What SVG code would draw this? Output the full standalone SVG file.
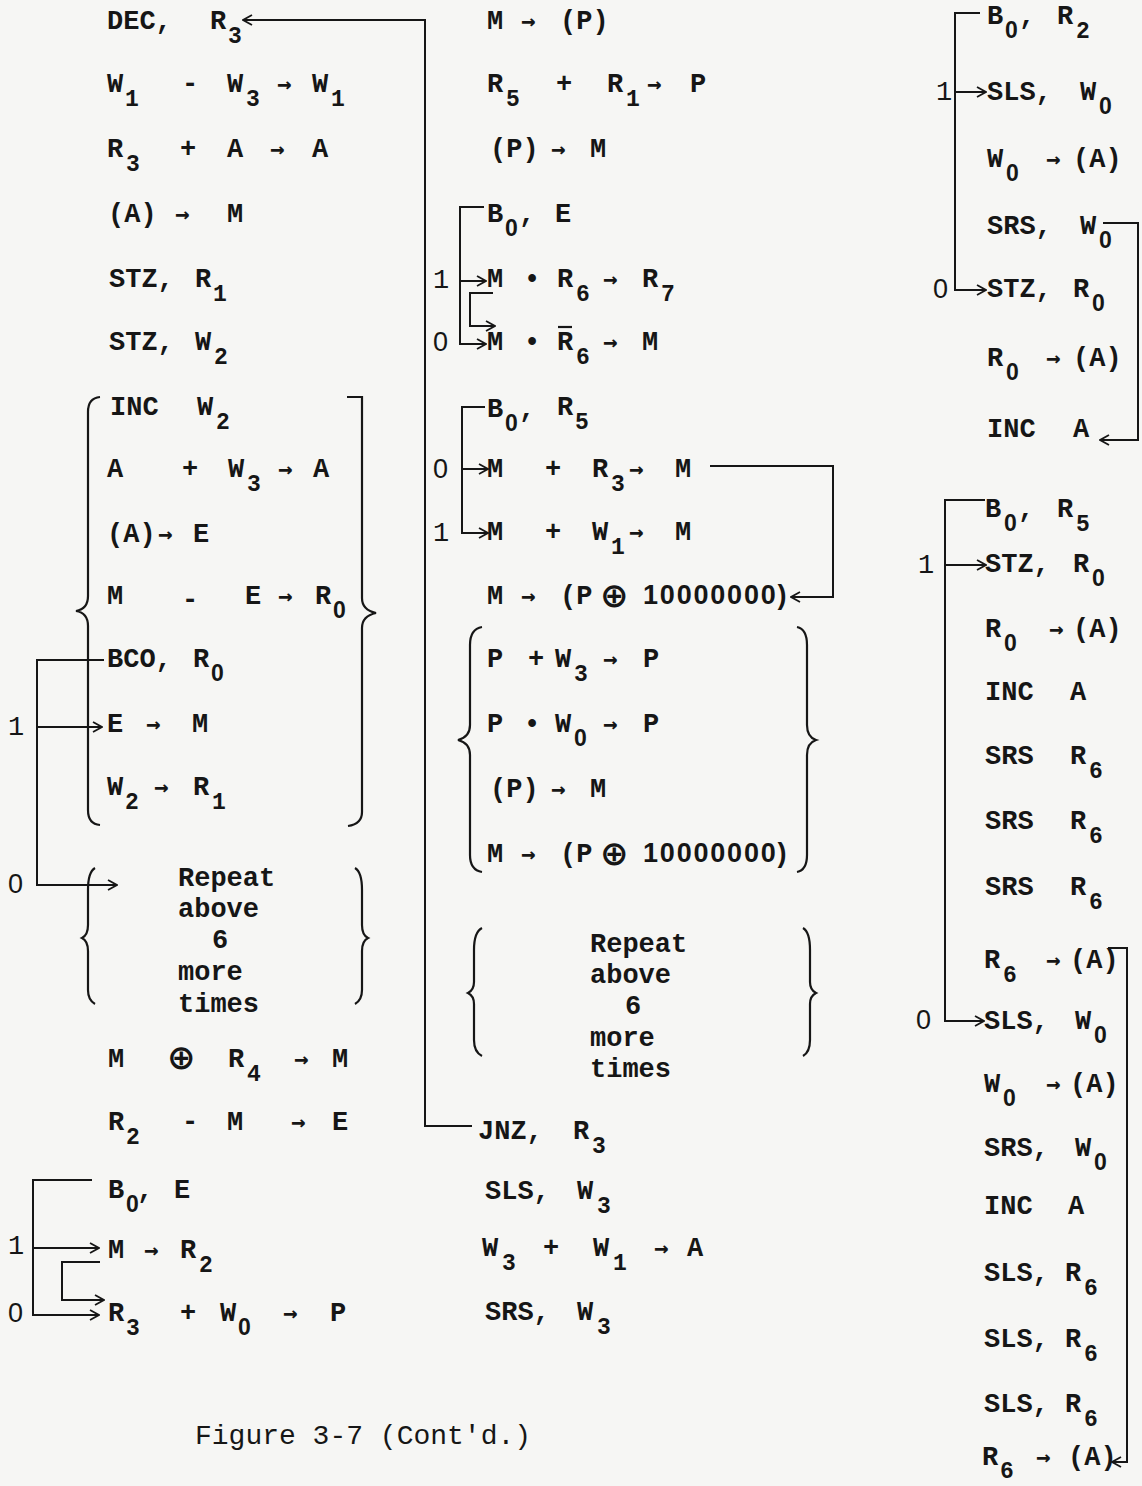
<svg xmlns="http://www.w3.org/2000/svg" width="1142" height="1486" viewBox="0 0 1142 1486">
<style>
.t{font-family:"Liberation Mono","Courier New",monospace;font-weight:bold;font-size:27px;fill:#161616}
.s{font-size:23px}
.z{font-family:"Liberation Sans",Arial,sans-serif}
.n{font-weight:normal}
.op{font-family:"DejaVu Sans",sans-serif;font-weight:bold;font-size:34px}
.ar{font-family:"DejaVu Sans Mono",monospace;font-weight:bold;font-size:24px}
.c{fill:none;stroke:#161616;stroke-width:2}
.br{fill:none;stroke:#161616;stroke-width:2.2}
</style>
<defs>
<marker id="ah" viewBox="0 0 12 12" refX="11" refY="6" markerWidth="12" markerHeight="12" markerUnits="userSpaceOnUse" orient="auto">
<path d="M2,1 L11,6 L2,11" fill="none" stroke="#161616" stroke-width="1.8"/>
</marker>
</defs>
<rect width="1142" height="1486" fill="#f6f6f4"/>

<g id="connectors" class="c">
<path d="M472,1126 L425,1126 L425,20 L243,20" marker-end="url(#ah)"/>
<path d="M104,660 L37,660 L37,885 L117,885" marker-end="url(#ah)"/>
<path d="M37,727 L102,727" marker-end="url(#ah)"/>
<path d="M484,207 L460,207 L460,344 L486,344" marker-end="url(#ah)"/>
<path d="M460,281 L486,281" marker-end="url(#ah)"/>
<path d="M493,293 L470,293 L470,326 L495,326" marker-end="url(#ah)"/>
<path d="M485,407 L462,407 L462,533 L488,533" marker-end="url(#ah)"/>
<path d="M462,469 L488,469" marker-end="url(#ah)"/>
<path d="M710,466 L833,466 L833,597 L791,597" marker-end="url(#ah)"/>
<path d="M92,1180 L33,1180 L33,1315 L99,1315" marker-end="url(#ah)"/>
<path d="M33,1248 L99,1248" marker-end="url(#ah)"/>
<path d="M100,1262 L62,1262 L62,1300 L104,1300" marker-end="url(#ah)"/>
<path d="M980,13 L955,13 L955,290 L986,290" marker-end="url(#ah)"/>
<path d="M955,92 L986,92" marker-end="url(#ah)"/>
<path d="M1103,223 L1138,223 L1138,440 L1100,440" marker-end="url(#ah)"/>
<path d="M985,500 L945,500 L945,1021 L984,1021" marker-end="url(#ah)"/>
<path d="M945,565 L986,565" marker-end="url(#ah)"/>
<path d="M1108,948 L1127,948 L1127,1462 L1112,1462" marker-end="url(#ah)"/>
</g>

<g id="braces" class="br">
<path d="M100,397 Q88,398 88,412 L88,596 Q88,609 76,611 Q88,613 88,626 L88,810 Q88,824 100,825"/>
<path d="M347,397 L362,397 L362,598 Q362,610 376,613 Q362,616 362,628 L362,812 Q362,824 348,826"/>
<path d="M95,868 Q88,872 88,890 L88,925 Q88,935 82,938 Q88,941 88,951 L88,990 Q88,1000 95,1004"/>
<path d="M355,868 Q362,872 362,890 L362,925 Q362,935 368,938 Q362,941 362,951 L362,990 Q362,1000 355,1004"/>
<path d="M482,627 Q470,629 470,645 L470,725 Q470,737 458,740 Q470,743 470,755 L470,855 Q470,870 482,872"/>
<path d="M797,627 Q807,629 807,645 L807,725 Q807,737 816,740 Q807,743 807,755 L807,855 Q807,870 797,872"/>
<path d="M482,928 Q474,932 474,950 L474,982 Q474,990 468,993 Q474,996 474,1004 L474,1040 Q474,1052 482,1056"/>
<path d="M803,928 Q810,932 810,950 L810,982 Q810,990 816,993 Q810,996 810,1004 L810,1040 Q810,1052 803,1056"/>
</g>

<g id="labels" class="t n">
<text x="8" y="735">1</text><text class="z" x="8" y="893">0</text>
<text x="8" y="1254">1</text><text class="z" x="8" y="1322">0</text>
<text x="433" y="288">1</text><text class="z" x="433" y="351">0</text>
<text class="z" x="433" y="478">0</text><text x="433" y="541">1</text>
<text x="936" y="100">1</text><text class="z" x="933" y="298">0</text>
<text x="918" y="573">1</text><text class="z" x="916" y="1029">0</text>
</g>

<g id="l1" class="t"><text><tspan x="107" y="29">DEC,</tspan><tspan x="210" y="29">R</tspan><tspan class="s" x="228" y="43">3</tspan></text></g>
<g id="l2" class="t"><text><tspan x="107" y="92">W</tspan><tspan class="s" x="125" y="106">1</tspan><tspan x="182" y="92">-</tspan><tspan x="227" y="92">W</tspan><tspan class="s" x="246" y="106">3</tspan><tspan class="ar" x="277" y="92">→</tspan><tspan x="312" y="92">W</tspan><tspan class="s" x="331" y="106">1</tspan></text></g>
<g id="l3" class="t"><text><tspan x="107" y="157">R</tspan><tspan class="s" x="126" y="171">3</tspan><tspan x="180" y="157">+</tspan><tspan x="227" y="157">A</tspan><tspan class="ar" x="270" y="157">→</tspan><tspan x="312" y="157">A</tspan></text></g>
<g id="l4" class="t"><text><tspan x="108" y="222">(A)</tspan><tspan class="ar" x="175" y="222">→</tspan><tspan x="227" y="222">M</tspan></text></g>
<g id="l5" class="t"><text><tspan x="109" y="287">STZ,</tspan><tspan x="195" y="287">R</tspan><tspan class="s" x="213" y="301">1</tspan></text></g>
<g id="l6" class="t"><text><tspan x="109" y="350">STZ,</tspan><tspan x="195" y="350">W</tspan><tspan class="s" x="214" y="364">2</tspan></text></g>
<g id="l7" class="t"><text><tspan x="110" y="415">INC</tspan><tspan x="197" y="415">W</tspan><tspan class="s" x="216" y="429">2</tspan></text></g>
<g id="l8" class="t"><text><tspan x="107" y="477">A</tspan><tspan x="182" y="477">+</tspan><tspan x="228" y="477">W</tspan><tspan class="s" x="247" y="491">3</tspan><tspan class="ar" x="278" y="477">→</tspan><tspan x="313" y="477">A</tspan></text></g>
<g id="l9" class="t"><text><tspan x="107" y="542">(A)</tspan><tspan class="ar" x="158" y="542">→</tspan><tspan x="193" y="542">E</tspan></text></g>
<g id="l10" class="t"><text><tspan x="107" y="604">M</tspan><tspan x="182" y="608">-</tspan><tspan x="245" y="604">E</tspan><tspan class="ar" x="278" y="604">→</tspan><tspan x="315" y="604">R</tspan><tspan class="s z" x="333" y="618">0</tspan></text></g>
<g id="l11" class="t"><text><tspan x="107" y="667">BCO,</tspan><tspan x="193" y="667">R</tspan><tspan class="s z" x="211" y="681">0</tspan></text></g>
<g id="l12" class="t"><text><tspan x="107" y="732">E</tspan><tspan class="ar" x="146" y="732">→</tspan><tspan x="192" y="732">M</tspan></text></g>
<g id="l13" class="t"><text><tspan x="107" y="795">W</tspan><tspan class="s" x="125" y="809">2</tspan><tspan class="ar" x="154" y="795">→</tspan><tspan x="193" y="795">R</tspan><tspan class="s" x="212" y="809">1</tspan></text></g>
<g id="repeat1" class="t"><text><tspan x="178" y="886">Repeat</tspan><tspan x="178" y="917">above</tspan><tspan x="212" y="948">6</tspan><tspan x="178" y="980">more</tspan><tspan x="178" y="1012">times</tspan></text></g>
<g id="l14" class="t"><text><tspan x="108" y="1067">M</tspan><tspan class="op" x="167" y="1069">⊕</tspan><tspan x="228" y="1067">R</tspan><tspan class="s" x="247" y="1081">4</tspan><tspan class="ar" x="294" y="1067">→</tspan><tspan x="332" y="1067">M</tspan></text></g>
<g id="l15" class="t"><text><tspan x="108" y="1130">R</tspan><tspan class="s" x="126" y="1144">2</tspan><tspan x="182" y="1130">-</tspan><tspan x="227" y="1130">M</tspan><tspan class="ar" x="291" y="1130">→</tspan><tspan x="332" y="1130">E</tspan></text></g>
<g id="l16" class="t"><text><tspan x="108" y="1198">B</tspan><tspan class="s z" x="126" y="1212">0</tspan><tspan x="137" y="1198">,</tspan><tspan x="174" y="1198">E</tspan></text></g>
<g id="l17" class="t"><text><tspan x="108" y="1258">M</tspan><tspan class="ar" x="144" y="1258">→</tspan><tspan x="180" y="1258">R</tspan><tspan class="s" x="199" y="1272">2</tspan></text></g>
<g id="l18" class="t"><text><tspan x="108" y="1321">R</tspan><tspan class="s" x="126" y="1335">3</tspan><tspan x="180" y="1321">+</tspan><tspan x="220" y="1321">W</tspan><tspan class="s z" x="238" y="1335">0</tspan><tspan class="ar" x="283" y="1321">→</tspan><tspan x="330" y="1321">P</tspan></text></g>
<g id="caption"><text class="t n" x="195" y="1444" style="font-size:28px">Figure 3-7 (Cont'd.)</text></g>

<g id="m1" class="t"><text><tspan x="487" y="29">M</tspan><tspan class="ar" x="521" y="29">→</tspan><tspan x="560" y="29">(P)</tspan></text></g>
<g id="m2" class="t"><text><tspan x="487" y="92">R</tspan><tspan class="s" x="506" y="106">5</tspan><tspan x="556" y="92">+</tspan><tspan x="607" y="92">R</tspan><tspan class="s" x="626" y="106">1</tspan><tspan class="ar" x="647" y="92">→</tspan><tspan x="690" y="92">P</tspan></text></g>
<g id="m3" class="t"><text><tspan x="490" y="157">(P)</tspan><tspan class="ar" x="551" y="157">→</tspan><tspan x="590" y="157">M</tspan></text></g>
<g id="m4" class="t"><text><tspan x="487" y="222">B</tspan><tspan class="s z" x="505" y="236">0</tspan><tspan x="519" y="222">,</tspan><tspan x="555" y="222">E</tspan></text></g>
<g id="m5" class="t"><text><tspan x="487" y="287">M</tspan><tspan x="524" y="287">•</tspan><tspan x="557" y="287">R</tspan><tspan class="s" x="576" y="301">6</tspan><tspan class="ar" x="603" y="287">→</tspan><tspan x="642" y="287">R</tspan><tspan class="s" x="661" y="301">7</tspan></text></g>
<g id="m6" class="t"><text><tspan x="487" y="350">M</tspan><tspan x="524" y="350">•</tspan><tspan x="557" y="350">R</tspan><tspan class="s" x="576" y="364">6</tspan><tspan class="ar" x="603" y="350">→</tspan><tspan x="642" y="350">M</tspan></text><line x1="558" y1="327" x2="572" y2="327" stroke="#161616" stroke-width="2.2"/></g>
<g id="m7" class="t"><text><tspan x="487" y="417">B</tspan><tspan class="s z" x="505" y="431">0</tspan><tspan x="519" y="417">,</tspan><tspan x="557" y="415">R</tspan><tspan class="s" x="575" y="429">5</tspan></text></g>
<g id="m8" class="t"><text><tspan x="487" y="477">M</tspan><tspan x="545" y="477">+</tspan><tspan x="592" y="477">R</tspan><tspan class="s" x="611" y="491">3</tspan><tspan class="ar" x="629" y="477">→</tspan><tspan x="675" y="477">M</tspan></text></g>
<g id="m9" class="t"><text><tspan x="487" y="540">M</tspan><tspan x="545" y="540">+</tspan><tspan x="592" y="540">W</tspan><tspan class="s" x="611" y="554">1</tspan><tspan class="ar" x="629" y="540">→</tspan><tspan x="675" y="540">M</tspan></text></g>
<g id="m10" class="t"><text><tspan x="487" y="604">M</tspan><tspan class="ar" x="521" y="604">→</tspan><tspan x="560" y="604">(P</tspan><tspan class="op" x="600" y="607">⊕</tspan><tspan class="z" x="643" y="604" style="letter-spacing:1.8px">10000000)</tspan></text></g>
<g id="m11" class="t"><text><tspan x="487" y="667">P</tspan><tspan x="528" y="667">+</tspan><tspan x="555" y="667">W</tspan><tspan class="s" x="574" y="681">3</tspan><tspan class="ar" x="603" y="667">→</tspan><tspan x="643" y="667">P</tspan></text></g>
<g id="m12" class="t"><text><tspan x="487" y="732">P</tspan><tspan x="524" y="732">•</tspan><tspan x="555" y="732">W</tspan><tspan class="s z" x="574" y="746">0</tspan><tspan class="ar" x="603" y="732">→</tspan><tspan x="643" y="732">P</tspan></text></g>
<g id="m13" class="t"><text><tspan x="490" y="797">(P)</tspan><tspan class="ar" x="551" y="797">→</tspan><tspan x="590" y="797">M</tspan></text></g>
<g id="m14" class="t"><text><tspan x="487" y="862">M</tspan><tspan class="ar" x="521" y="862">→</tspan><tspan x="560" y="862">(P</tspan><tspan class="op" x="600" y="865">⊕</tspan><tspan class="z" x="643" y="862" style="letter-spacing:1.8px">10000000)</tspan></text></g>
<g id="repeat2" class="t"><text><tspan x="590" y="952">Repeat</tspan><tspan x="590" y="983">above</tspan><tspan x="625" y="1014">6</tspan><tspan x="590" y="1046">more</tspan><tspan x="590" y="1077">times</tspan></text></g>
<g id="m15" class="t"><text><tspan x="478" y="1139">JNZ,</tspan><tspan x="573" y="1139">R</tspan><tspan class="s" x="592" y="1153">3</tspan></text></g>
<g id="m16" class="t"><text><tspan x="485" y="1199">SLS,</tspan><tspan x="577" y="1199">W</tspan><tspan class="s" x="597" y="1213">3</tspan></text></g>
<g id="m17" class="t"><text><tspan x="482" y="1256">W</tspan><tspan class="s" x="502" y="1270">3</tspan><tspan x="543" y="1256">+</tspan><tspan x="593" y="1256">W</tspan><tspan class="s" x="613" y="1270">1</tspan><tspan class="ar" x="654" y="1256">→</tspan><tspan x="687" y="1256">A</tspan></text></g>
<g id="m18" class="t"><text><tspan x="485" y="1320">SRS,</tspan><tspan x="577" y="1320">W</tspan><tspan class="s" x="597" y="1334">3</tspan></text></g>

<g id="r1" class="t"><text><tspan x="987" y="24">B</tspan><tspan class="s z" x="1005" y="38">0</tspan><tspan x="1019" y="24">,</tspan><tspan x="1057" y="24">R</tspan><tspan class="s" x="1076" y="38">2</tspan></text></g>
<g id="r2" class="t"><text><tspan x="987" y="100">SLS,</tspan><tspan x="1080" y="100">W</tspan><tspan class="s z" x="1099" y="114">0</tspan></text></g>
<g id="r3" class="t"><text><tspan x="987" y="167">W</tspan><tspan class="s z" x="1006" y="181">0</tspan><tspan class="ar" x="1046" y="167">→</tspan><tspan x="1073" y="167">(A)</tspan></text></g>
<g id="r4" class="t"><text><tspan x="987" y="234">SRS,</tspan><tspan x="1080" y="234">W</tspan><tspan class="s z" x="1099" y="248">0</tspan></text></g>
<g id="r5" class="t"><text><tspan x="987" y="297">STZ,</tspan><tspan x="1073" y="297">R</tspan><tspan class="s z" x="1092" y="311">0</tspan></text></g>
<g id="r6" class="t"><text><tspan x="987" y="366">R</tspan><tspan class="s z" x="1006" y="380">0</tspan><tspan class="ar" x="1046" y="366">→</tspan><tspan x="1073" y="366">(A)</tspan></text></g>
<g id="r7" class="t"><text><tspan x="987" y="437">INC</tspan><tspan x="1073" y="437">A</tspan></text></g>
<g id="r8" class="t"><text><tspan x="985" y="517">B</tspan><tspan class="s z" x="1004" y="531">0</tspan><tspan x="1018" y="517">,</tspan><tspan x="1057" y="517">R</tspan><tspan class="s" x="1076" y="531">5</tspan></text></g>
<g id="r9" class="t"><text><tspan x="985" y="572">STZ,</tspan><tspan x="1073" y="572">R</tspan><tspan class="s z" x="1092" y="586">0</tspan></text></g>
<g id="r10" class="t"><text><tspan x="985" y="637">R</tspan><tspan class="s z" x="1004" y="651">0</tspan><tspan class="ar" x="1049" y="637">→</tspan><tspan x="1073" y="637">(A)</tspan></text></g>
<g id="r11" class="t"><text><tspan x="985" y="700">INC</tspan><tspan x="1070" y="700">A</tspan></text></g>
<g id="r12" class="t"><text><tspan x="985" y="764">SRS</tspan><tspan x="1070" y="764">R</tspan><tspan class="s" x="1089" y="778">6</tspan></text></g>
<g id="r13" class="t"><text><tspan x="985" y="829">SRS</tspan><tspan x="1070" y="829">R</tspan><tspan class="s" x="1089" y="843">6</tspan></text></g>
<g id="r14" class="t"><text><tspan x="985" y="895">SRS</tspan><tspan x="1070" y="895">R</tspan><tspan class="s" x="1089" y="909">6</tspan></text></g>
<g id="r15" class="t"><text><tspan x="984" y="968">R</tspan><tspan class="s" x="1003" y="982">6</tspan><tspan class="ar" x="1046" y="968">→</tspan><tspan x="1070" y="968">(A)</tspan></text></g>
<g id="r16" class="t"><text><tspan x="984" y="1029">SLS,</tspan><tspan x="1075" y="1029">W</tspan><tspan class="s z" x="1094" y="1043">0</tspan></text></g>
<g id="r17" class="t"><text><tspan x="984" y="1092">W</tspan><tspan class="s z" x="1003" y="1106">0</tspan><tspan class="ar" x="1046" y="1092">→</tspan><tspan x="1070" y="1092">(A)</tspan></text></g>
<g id="r18" class="t"><text><tspan x="984" y="1156">SRS,</tspan><tspan x="1075" y="1156">W</tspan><tspan class="s z" x="1094" y="1170">0</tspan></text></g>
<g id="r19" class="t"><text><tspan x="984" y="1214">INC</tspan><tspan x="1068" y="1214">A</tspan></text></g>
<g id="r20" class="t"><text><tspan x="984" y="1281">SLS,</tspan><tspan x="1065" y="1281">R</tspan><tspan class="s" x="1084" y="1295">6</tspan></text></g>
<g id="r21" class="t"><text><tspan x="984" y="1347">SLS,</tspan><tspan x="1065" y="1347">R</tspan><tspan class="s" x="1084" y="1361">6</tspan></text></g>
<g id="r22" class="t"><text><tspan x="984" y="1412">SLS,</tspan><tspan x="1065" y="1412">R</tspan><tspan class="s" x="1084" y="1426">6</tspan></text></g>
<g id="r23" class="t"><text><tspan x="982" y="1465">R</tspan><tspan class="s" x="1000" y="1478">6</tspan><tspan class="ar" x="1036" y="1465">→</tspan><tspan x="1068" y="1465">(A)</tspan></text></g>
</svg>
